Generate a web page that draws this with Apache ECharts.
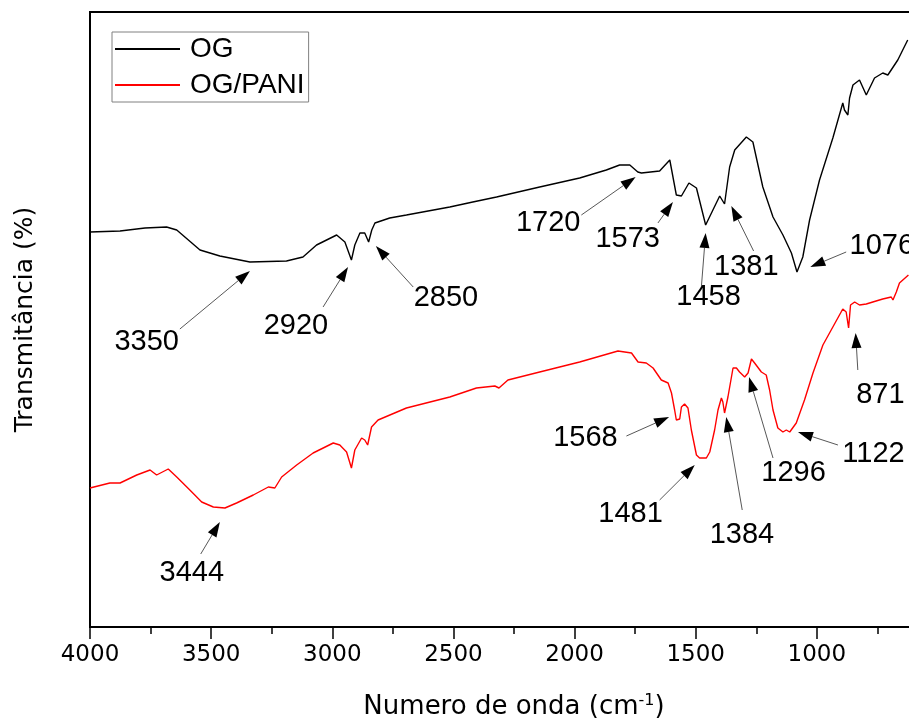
<!DOCTYPE html>
<html>
<head>
<meta charset="utf-8">
<script src="https://cdn.jsdelivr.net/npm/echarts@6/dist/echarts.min.js"></script>
<style>html,body{margin:0;padding:0;background:#fff;}#chart{width:909px;height:722px;}</style>
</head>
<body>
<div id="chart"></div>
<script>
// Wavenumber (cm-1), transmittance (arbitrary %)
const OG = [
[4000,39.5],[3876,39.6],[3773,39.9],[3684,40.0],[3642,39.7],[3546,37.7],[3464,37.1],[3340,36.5],
[3189,36.6],[3121,37.0],[3065,38.2],[2982,39.2],[2948,38.5],[2921,36.7],[2907,38.2],[2886,39.4],
[2866,39.4],[2850,38.5],[2837,39.7],[2824,40.4],[2763,40.9],[2694,41.2],[2515,42.0],[2420,42.5],
[2322,43.0],[2144,44.0],[1979,44.9],[1869,45.7],[1814,46.2],[1772,46.2],[1739,45.5],[1724,45.4],
[1649,45.6],[1607,46.7],[1580,43.2],[1559,43.1],[1528,44.4],[1497,43.9],[1459,40.2],[1429,41.7],
[1401,43.1],[1381,42.3],[1360,46.0],[1339,47.7],[1291,49.0],[1264,48.5],[1223,44.0],[1181,41.0],
[1140,39.2],[1105,37.4],[1082,35.5],[1058,37.0],[1030,40.7],[989,44.7],[934,48.9],[893,52.4],
[886,51.7],[872,51.2],[865,52.9],[851,54.2],[824,54.7],[796,53.2],[762,54.9],[728,55.4],
[707,55.2],[666,56.7],[625,58.7]
];
const OG_PANI = [
[4000,13.9],[3918,14.4],[3876,14.4],[3807,15.2],[3752,15.7],[3725,15.2],[3677,15.8],[3642,15.0],
[3588,13.7],[3539,12.5],[3491,12.0],[3443,11.9],[3395,12.4],[3326,13.2],[3264,14.0],[3237,13.9],
[3209,15.0],[3147,16.2],[3079,17.4],[2996,18.4],[2969,18.2],[2941,17.5],[2921,15.9],[2907,17.7],
[2879,18.9],[2866,18.7],[2854,18.2],[2838,20.0],[2811,20.7],[2694,21.9],[2515,23.0],[2405,23.9],
[2329,24.1],[2312,23.9],[2275,24.7],[2144,25.5],[1979,26.5],[1821,27.6],[1765,27.4],[1738,26.5],
[1704,26.4],[1676,25.9],[1642,24.7],[1614,24.4],[1600,23.4],[1587,21.7],[1580,20.7],[1566,20.8],
[1559,22.0],[1546,22.3],[1532,21.9],[1518,19.7],[1497,17.2],[1484,16.9],[1477,17.1],[1456,16.9],
[1442,17.5],[1422,19.7],[1408,21.7],[1394,22.9],[1388,22.5],[1381,21.4],[1367,23.0],[1346,25.9],
[1332,25.9],[1319,25.5],[1298,25.0],[1284,25.4],[1270,26.8],[1257,26.4],[1229,25.5],[1209,25.2],
[1195,23.7],[1181,21.7],[1161,19.9],[1140,19.5],[1126,19.7],[1112,19.5],[1085,20.4],[1051,22.7],
[1016,25.4],[975,28.2],[934,30.0],[893,31.8],[879,31.5],[869,29.9],[861,32.2],[844,32.5],
[824,32.2],[796,32.3],[769,32.5],[728,32.8],[693,33.0],[686,32.7],[672,33.5],[659,34.4],[622,35.2]
];
const X_TICKS = [4000, 3500, 3000, 2500, 2000, 1500, 1000];
const SERIES_NAMES = ['OG', 'OG/PANI'];
// Peak annotations: text, label point, arrow tail, arrow head (data coordinates)
const PEAK_TEXT = ['3350','2920','2850','1720','1573','1458','1381','1076',
                   '3444','1568','1481','1384','1296','1122','871'];
const PEAK_LABEL = [[3766,28.5],[3150,30.1],[2531,32.9],[2109,40.4],[1781,38.8],[1447,33.0],[1291,36.0],[865,38.1],
                    [3580,5.45],[1955,18.95],[1769,11.3],[1309,9.2],[1096,15.4],[766,17.3],[738,23.2]];
const PEAK_TAIL = [[3629,29.8],[3038,32.0],[2666,34.0],[1972,41.2],[1656,40.4],[1477,33.9],[1261,37.6],[879,37.5],
                   [3543,7.3],[1786,19.1],[1649,12.7],[1308,11.7],[1181,16.9],[913,18.2],[831,25.7]];
const PEAK_HEAD = [[3340,35.6],[2935,36.0],[2820,38.1],[1748,45.0],[1594,42.5],[1459,39.4],[1353,42.1],[1027,36.0],
                   [3464,10.5],[1610,21.0],[1504,16.2],[1374,21.0],[1280,25.0],[1078,19.5],[840,29.4]];

const annData = PEAK_TEXT.map((t, i) => [PEAK_LABEL[i][0], PEAK_LABEL[i][1], PEAK_TAIL[i][0], PEAK_TAIL[i][1], PEAK_HEAD[i][0], PEAK_HEAD[i][1]]);

const chart = echarts.init(document.getElementById('chart'), null, {renderer: 'canvas'});
const option = {
  animation: false,
  backgroundColor: '#fff',
  grid: {left: 90, right: -29, top: 12, bottom: 95, show: true, borderColor: '#000', borderWidth: 2,
         backgroundColor: 'transparent', containLabel: false, outerBoundsMode: 'none'},
  legend: {
    data: SERIES_NAMES, left: 112, top: 32, orient: 'vertical', icon: 'rect',
    itemWidth: 65, itemHeight: 2, itemGap: 8, padding: [3, 4, 3, 3],
    borderColor: '#808080', borderWidth: 1,
    textStyle: {fontSize: 28, lineHeight: 28, fontFamily: '"Liberation Sans", Arial, sans-serif', color: '#000', padding: [0, 0, 0, 5]}
  },
  xAxis: {
    type: 'value', inverse: true, min: 500, max: 4000, interval: 500,
    axisLine: {show: true, lineStyle: {color: '#000', width: 2}},
    axisTick: {show: true, length: 12, lineStyle: {color: '#000', width: 1.5}},
    minorTick: {show: true, splitNumber: 2, length: 7, lineStyle: {color: '#000', width: 1.5}},
    splitLine: {show: false},
    axisLabel: {
      margin: 17, fontSize: 23, fontFamily: '"DejaVu Sans", sans-serif', color: '#000',
      formatter: v => (X_TICKS.indexOf(v) >= 0 ? String(v) : '')
    },
    name: '{a|Numero de onda (cm}{s|-1}{a|)}', nameLocation: 'middle', nameGap: 66,
    nameTextStyle: {
      rich: {
        a: {fontSize: 26, fontFamily: '"DejaVu Sans", sans-serif', color: '#000'},
        s: {fontSize: 16, fontFamily: '"DejaVu Sans", sans-serif', color: '#000', padding: [0, 0, 13, 0]}
      }
    }
  },
  yAxis: {
    type: 'value', min: 0, max: 61.5,
    axisLine: {show: true, lineStyle: {color: '#000', width: 2}},
    axisTick: {show: false}, axisLabel: {show: false}, splitLine: {show: false},
    name: 'Transmitância (%)', nameLocation: 'middle', nameGap: 52,
    nameTextStyle: {fontSize: 25, fontFamily: '"DejaVu Sans", sans-serif', color: '#000'}
  },
  series: [
    {name: SERIES_NAMES[0], type: 'line', data: OG, symbol: 'none', smooth: false,
     lineStyle: {color: '#000', width: 1.4}, itemStyle: {color: '#000'}},
    {name: SERIES_NAMES[1], type: 'line', data: OG_PANI, symbol: 'none', smooth: false,
     lineStyle: {color: '#ff0000', width: 1.4}, itemStyle: {color: '#ff0000'}},
    {name: 'peaks', type: 'custom', coordinateSystem: 'cartesian2d', clip: false, silent: true,
     data: annData, encode: {x: [0, 2, 4], y: [1, 3, 5]},
     renderItem: function (params, api) {
       const i = params.dataIndex;
       const lab = api.coord([api.value(0), api.value(1)]);
       const tail = api.coord([api.value(2), api.value(3)]);
       const head = api.coord([api.value(4), api.value(5)]);
       const dx = head[0] - tail[0], dy = head[1] - tail[1];
       const len = Math.hypot(dx, dy) || 1;
       const ux = dx / len, uy = dy / len;
       const L = 15, W = 5;
       const bx = head[0] - ux * L, by = head[1] - uy * L;
       const p1 = [bx - uy * W, by + ux * W], p2 = [bx + uy * W, by - ux * W];
       const alignLeft = PEAK_TEXT[i] === '1076';
       return {type: 'group', children: [
         {type: 'line', shape: {x1: tail[0], y1: tail[1], x2: bx, y2: by}, style: {stroke: '#444', lineWidth: 0.9}},
         {type: 'polygon', shape: {points: [head, p1, p2]}, style: {fill: '#000'}},
         {type: 'text', x: lab[0], y: lab[1], style: {text: PEAK_TEXT[i], fill: '#000',
           font: '29px "Liberation Sans", Arial, sans-serif', align: alignLeft ? 'left' : 'center', verticalAlign: 'middle'}}
       ]};
     }}
  ]
};
chart.setOption(option);
</script>
</body>
</html>
